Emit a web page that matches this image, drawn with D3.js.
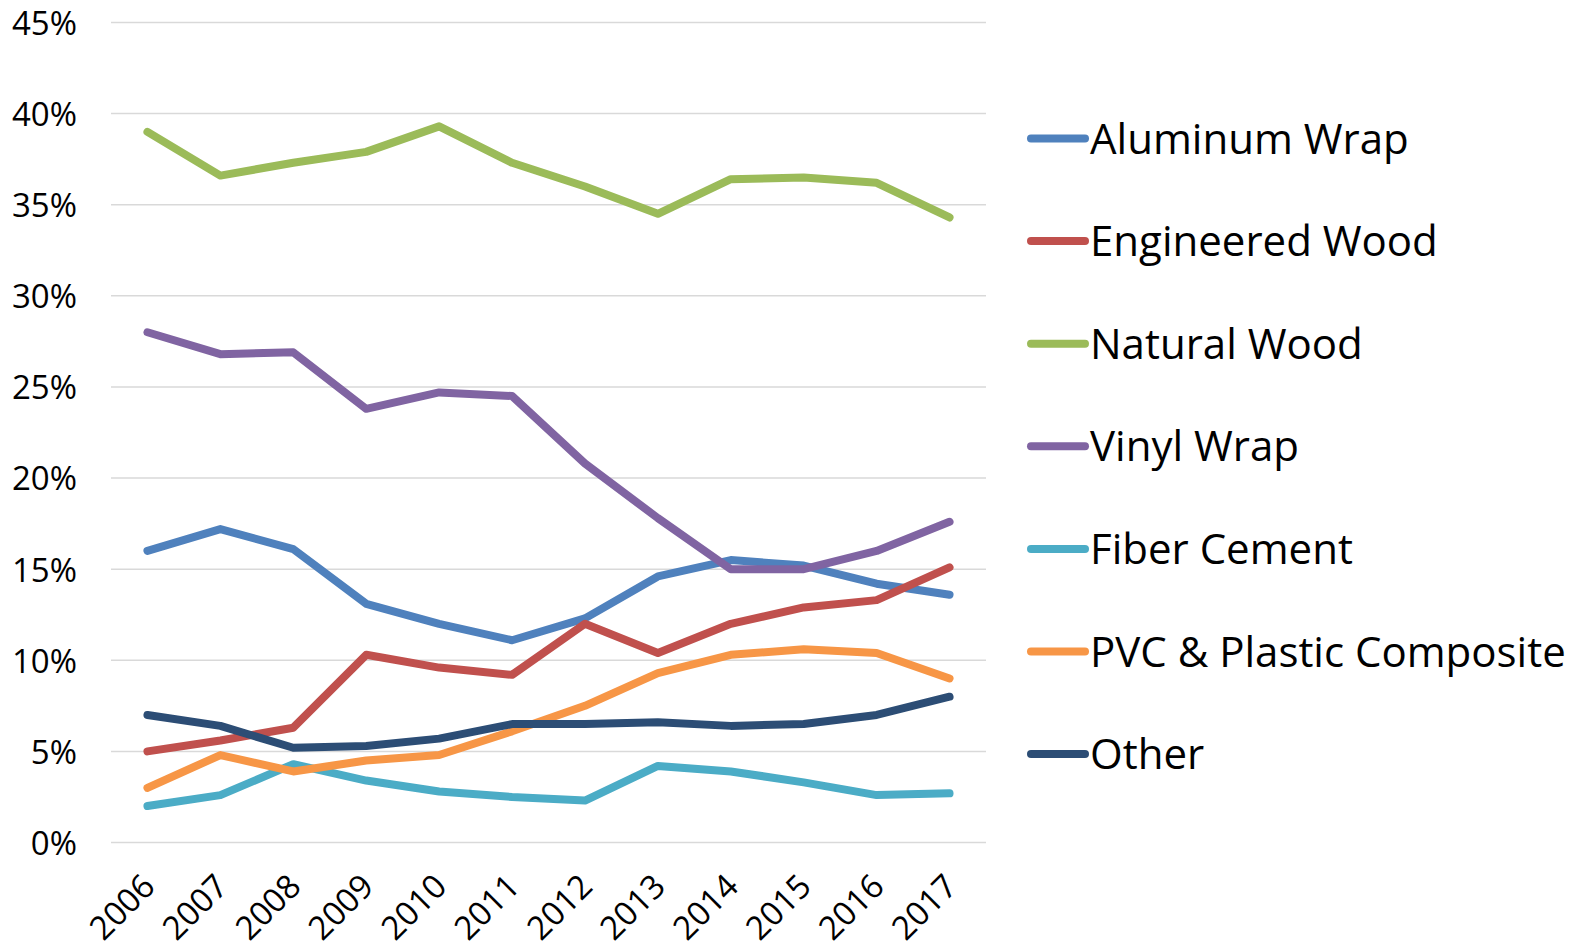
<!DOCTYPE html>
<html><head><meta charset="utf-8">
<script src="https://cdn.jsdelivr.net/npm/d3@7"></script>
<style>html,body{margin:0;padding:0;background:#fff;}</style>
</head><body>
<svg id="chart" width="1585" height="949"></svg>
<script>
const years = ["2006","2007","2008","2009","2010","2011","2012","2013","2014","2015","2016","2017"];
const seriesNames = ["Aluminum Wrap","Engineered Wood","Natural Wood","Vinyl Wrap","Fiber Cement","PVC & Plastic Composite","Other"];
const aluminumWrap   = [16.0,17.2,16.1,13.1,12.0,11.1,12.3,14.6,15.5,15.2,14.2,13.6];
const engineeredWood = [5.0,5.6,6.3,10.3,9.6,9.2,12.0,10.4,12.0,12.9,13.3,15.1];
const naturalWood    = [39.0,36.6,37.3,37.9,39.3,37.3,36.0,34.5,36.4,36.5,36.2,34.3];
const vinylWrap      = [28.0,26.8,26.9,23.8,24.7,24.5,20.8,17.8,15.0,15.0,16.0,17.6];
const fiberCement    = [2.0,2.6,4.3,3.4,2.8,2.5,2.3,4.2,3.9,3.3,2.6,2.7];
const pvcComposite   = [3.0,4.8,3.9,4.5,4.8,6.1,7.5,9.3,10.3,10.6,10.4,9.0];
const other          = [7.0,6.4,5.2,5.3,5.7,6.5,6.5,6.6,6.4,6.5,7.0,8.0];
const yTicks = [0,5,10,15,20,25,30,35,40,45];
const colors = ["#4F81BD","#C0504D","#9BBB59","#8064A2","#4BACC6","#F79646","#2C4D75"];

const seriesValues = [aluminumWrap, engineeredWood, naturalWood, vinylWrap, fiberCement, pvcComposite, other];
const series = seriesNames.map((n,i)=>({name:n, values:seriesValues[i], color:colors[i]}));

const svg = d3.select("#chart");
const font = "'Open Sans', sans-serif";
const x = d3.scalePoint().domain(years).range([111, 986]).padding(0.5);
const y = d3.scaleLinear().domain([0,45]).range([842.5, 22.5]);

// gridlines
svg.append("g").selectAll("line").data(yTicks).join("line")
  .attr("x1",111).attr("x2",986)
  .attr("y1",d=>y(d)).attr("y2",d=>y(d))
  .attr("stroke","#d9d9d9").attr("stroke-width",1.5);

// y axis labels
const yAxis = d3.axisLeft(y).tickValues(yTicks).tickFormat(d=>d+"%").tickSize(0).tickPadding(0);
const gy = svg.append("g").attr("transform","translate(77,0)").call(yAxis);
gy.select(".domain").remove();
gy.selectAll("text").attr("font-family",font).attr("font-size",33).attr("fill","#000").attr("dy","0.36em");

// x axis labels
const xAxis = d3.axisBottom(x).tickSize(0).tickPadding(0);
const gx = svg.append("g").attr("transform","translate(0,842.5)").call(xAxis);
gx.select(".domain").remove();
gx.selectAll("text").attr("font-family",font).attr("font-size",33).attr("fill","#000")
  .attr("text-anchor","end").attr("dy",null).attr("y",0)
  .attr("transform","translate(9,46) rotate(-45)");

// lines
const line = d3.line().x((d,i)=>x(years[i])).y(d=>y(d));
svg.append("g").selectAll("path").data(series).join("path")
  .attr("d",d=>line(d.values)).attr("fill","none")
  .attr("stroke",d=>d.color).attr("stroke-width",8)
  .attr("stroke-linecap","round").attr("stroke-linejoin","round");

// legend
const leg = svg.append("g").selectAll("g").data(series).join("g")
  .attr("transform",(d,i)=>`translate(1031,${138.5 + i*102.6})`);
leg.append("line").attr("x1",0).attr("x2",54).attr("y1",0).attr("y2",0)
  .attr("stroke",d=>d.color).attr("stroke-width",8).attr("stroke-linecap","round");
leg.append("text").attr("x",59).attr("y",0).attr("dy","0.36em")
  .attr("font-family",font).attr("font-size",42).attr("fill","#000").text(d=>d.name);
</script>
</body></html>
